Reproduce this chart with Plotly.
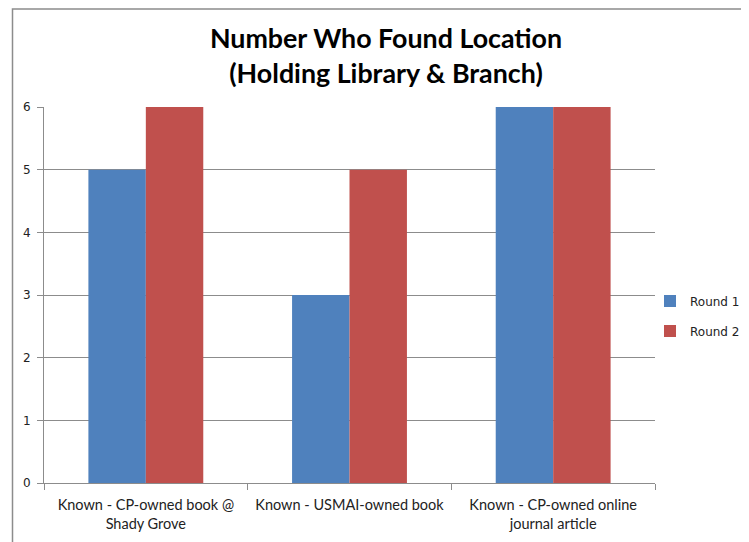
import plotly.graph_objects as go

categories = ["Known - CP-owned book @<br>Shady Grove", "Known - USMAI-owned book",
              "Known - CP-owned online<br>journal article"]
round1 = [5, 3, 6]
round2 = [6, 5, 6]
series_names = ["Round 1", "Round 2"]
colors = ["#4F81BD", "#C0504D"]

OFF = 8  # page body margin
W, H = 749 - OFF, 542 - OFF
L, T = 44 - OFF, 107 - OFF
PR, PB = 655 - OFF, 483 - OFF
R, B = W - PR, H - PB
pw, ph = PR - L, PB - T

def px_x(x):
    return (x - OFF - L) / pw

def px_y(y):
    return (PB - (y - OFF)) / ph

fig = go.Figure()
for name, vals, c in zip(series_names, [round1, round2], colors):
    fig.add_trace(go.Bar(x=categories, y=vals, name=name, marker=dict(color=c, line=dict(width=0)),
                         legendgroup=name))

fig.update_layout(
    width=W, height=H,
    margin=dict(l=L, r=R, t=T, b=B, autoexpand=False),
    paper_bgcolor="white", plot_bgcolor="white",
    barmode="group", bargap=0.436, bargroupgap=0,
    title=dict(text="<b>Number Who Found Location<br>(Holding Library &amp; Branch)</b>",
               x=px_x(386), xref="paper", xanchor="center", y=1 - 40 / H, yanchor="middle",
               font=dict(family="Lato, Open Sans, sans-serif", size=26.8, color="black")),
    legend=dict(x=px_x(650), xref="paper", y=px_y(316), yanchor="middle", xanchor="left",
                font=dict(family="DejaVu Sans, Verdana, sans-serif", size=12, color="#222"),
                tracegroupgap=11, itemwidth=30, bgcolor="rgba(0,0,0,0)"),
    font=dict(family="DejaVu Sans, sans-serif", size=12, color="#222"),
    shapes=[dict(type="rect", xref="paper", yref="paper",
                 x0=px_x(12.5), x1=px_x(780), y0=px_y(580), y1=px_y(9),
                 line=dict(color="#8c8c8c", width=1.5), fillcolor="rgba(0,0,0,0)", layer="below")],
)
fig.update_yaxes(range=[0, 6], dtick=1, showgrid=True, gridcolor="#8c8c8c", gridwidth=1,
                 showline=True, linecolor="#8c8c8c", ticks="outside", ticklen=6, tickcolor="#8c8c8c",
                 tickfont=dict(family="DejaVu Sans, Verdana, sans-serif", size=12, color="#222"),
                 ticklabelstandoff=4, zeroline=False, fixedrange=True)
fig.update_xaxes(showline=True, linecolor="#8c8c8c", ticks="outside", tickson="boundaries", ticklen=6,
                 tickcolor="#8c8c8c",
                 tickfont=dict(family="Lato, Open Sans, sans-serif", size=14.5, color="#222"),
                 ticklabelstandoff=9)

fig.write_html("out.html")
